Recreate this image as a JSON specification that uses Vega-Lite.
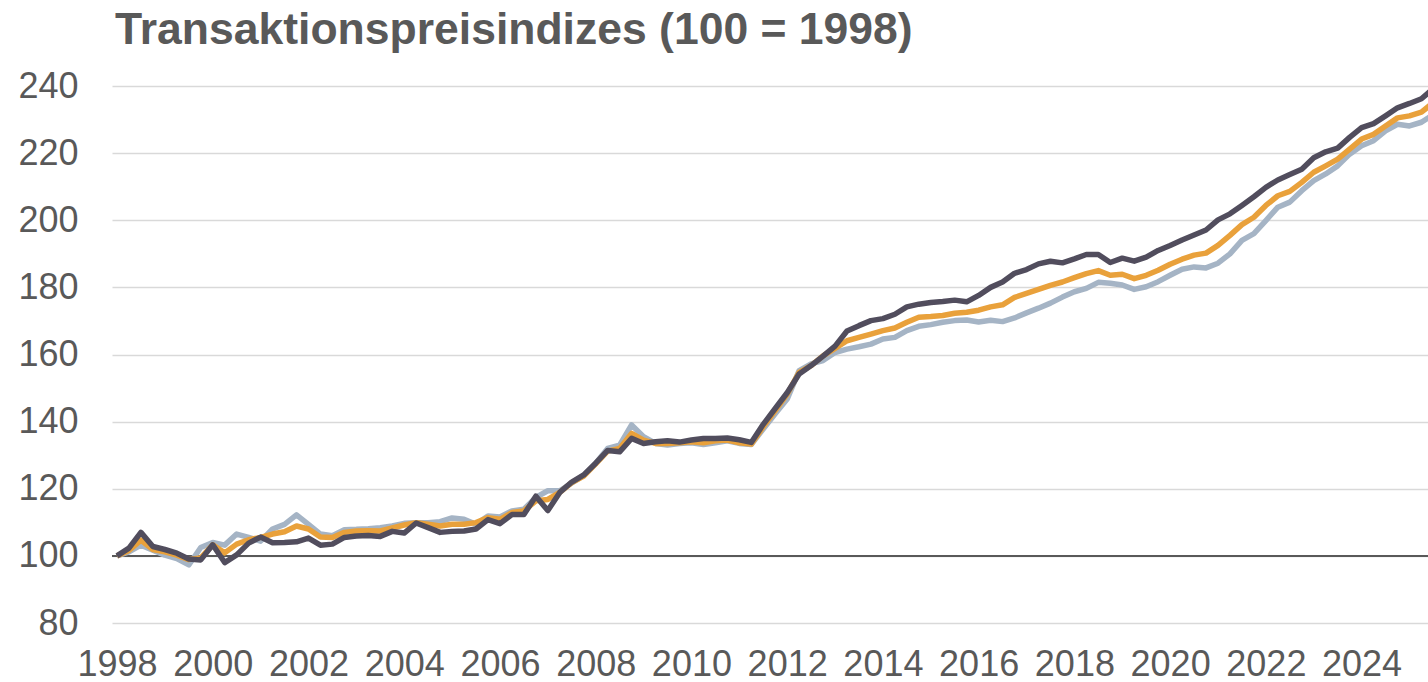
{
  "$schema": "https://vega.github.io/schema/vega-lite/v6.json",
  "autosize": {"type": "none"},
  "width": 1316,
  "height": 537,
  "padding": {"left": 112, "top": 86, "right": 0, "bottom": 59},
  "background": "white",
  "title": {
    "text": "Transaktionspreisindizes (100 = 1998)",
    "anchor": "start",
    "frame": "group",
    "font": "Liberation Sans",
    "fontSize": 44.5,
    "fontWeight": "bold",
    "color": "#595959",
    "offset": 15,
    "dx": 3
  },
  "config": {
    "view": {"stroke": null},
    "font": "Liberation Sans"
  },
  "datasets": {
    "idx": [
      {"t": 1998.0, "a": 100, "b": 100, "c": 100},
      {"t": 1998.25, "a": 101.2, "b": 101.6, "c": 102.3},
      {"t": 1998.5, "a": 103.2, "b": 104.7, "c": 107},
      {"t": 1998.75, "a": 101.7, "b": 101.9, "c": 102.8},
      {"t": 1999.0, "a": 100.2, "b": 101.2, "c": 101.9},
      {"t": 1999.25, "a": 99.2, "b": 100.2, "c": 100.8},
      {"t": 1999.5, "a": 97.3, "b": 98.9, "c": 99.1},
      {"t": 1999.75, "a": 102.5, "b": 99.4, "c": 98.8},
      {"t": 2000.0, "a": 104, "b": 103.3, "c": 103.3},
      {"t": 2000.25, "a": 103.2, "b": 100.9, "c": 98},
      {"t": 2000.5, "a": 106.5, "b": 103.5, "c": 100.3},
      {"t": 2000.75, "a": 105.5, "b": 104.8, "c": 103.8},
      {"t": 2001.0, "a": 104.4, "b": 105.5, "c": 105.6},
      {"t": 2001.25, "a": 108, "b": 106.5, "c": 103.9},
      {"t": 2001.5, "a": 109.4, "b": 107.2, "c": 104},
      {"t": 2001.75, "a": 112.2, "b": 108.9, "c": 104.2},
      {"t": 2002.0, "a": 109.4, "b": 108, "c": 105.3},
      {"t": 2002.25, "a": 106.5, "b": 105.6, "c": 103.2},
      {"t": 2002.5, "a": 106, "b": 105.5, "c": 103.5},
      {"t": 2002.75, "a": 107.8, "b": 107, "c": 105.5},
      {"t": 2003.0, "a": 107.9, "b": 107.4, "c": 105.9},
      {"t": 2003.25, "a": 108.1, "b": 107.5, "c": 106.1},
      {"t": 2003.5, "a": 108.4, "b": 107.4, "c": 105.8},
      {"t": 2003.75, "a": 108.9, "b": 108.3, "c": 107.3},
      {"t": 2004.0, "a": 109.7, "b": 109.2, "c": 106.8},
      {"t": 2004.25, "a": 109.9, "b": 109.9, "c": 109.8},
      {"t": 2004.5, "a": 109.9, "b": 109.4, "c": 108.4},
      {"t": 2004.75, "a": 110.2, "b": 108.9, "c": 107},
      {"t": 2005.0, "a": 111.3, "b": 109.4, "c": 107.3},
      {"t": 2005.25, "a": 110.9, "b": 109.4, "c": 107.4},
      {"t": 2005.5, "a": 109.4, "b": 109.9, "c": 108},
      {"t": 2005.75, "a": 111.9, "b": 111.4, "c": 110.8},
      {"t": 2006.0, "a": 111.6, "b": 110.9, "c": 109.6},
      {"t": 2006.25, "a": 113.4, "b": 112.9, "c": 112.3},
      {"t": 2006.5, "a": 113.9, "b": 113.4, "c": 112.3},
      {"t": 2006.75, "a": 117.4, "b": 116.4, "c": 117.8},
      {"t": 2007.0, "a": 119.4, "b": 116.8, "c": 113.5},
      {"t": 2007.25, "a": 119.4, "b": 118.9, "c": 118.9},
      {"t": 2007.5, "a": 121.7, "b": 121.8, "c": 122},
      {"t": 2007.75, "a": 124, "b": 123.8, "c": 124.1},
      {"t": 2008.0, "a": 127.6, "b": 127.4, "c": 127.6},
      {"t": 2008.25, "a": 132, "b": 131.2, "c": 131.4},
      {"t": 2008.5, "a": 133, "b": 132, "c": 131},
      {"t": 2008.75, "a": 139, "b": 136.5, "c": 135},
      {"t": 2009.0, "a": 135.5, "b": 134.5, "c": 133.5},
      {"t": 2009.25, "a": 133.5, "b": 133.5, "c": 134},
      {"t": 2009.5, "a": 133, "b": 133.5, "c": 134.3},
      {"t": 2009.75, "a": 133.5, "b": 133.7, "c": 133.9},
      {"t": 2010.0, "a": 133.7, "b": 134, "c": 134.5},
      {"t": 2010.25, "a": 133.2, "b": 133.7, "c": 135},
      {"t": 2010.5, "a": 133.7, "b": 134.3, "c": 135},
      {"t": 2010.75, "a": 134.3, "b": 134.5, "c": 135.1},
      {"t": 2011.0, "a": 133.5, "b": 133.7, "c": 134.6},
      {"t": 2011.25, "a": 133.2, "b": 133.3, "c": 133.8},
      {"t": 2011.5, "a": 137.8, "b": 138.5, "c": 139.2},
      {"t": 2011.75, "a": 142.3, "b": 143.3, "c": 143.9},
      {"t": 2012.0, "a": 146.7, "b": 148.2, "c": 148.6},
      {"t": 2012.25, "a": 155.2, "b": 154.7, "c": 154.2},
      {"t": 2012.5, "a": 157.2, "b": 156.7, "c": 156.7},
      {"t": 2012.75, "a": 158.2, "b": 159.6, "c": 159.5},
      {"t": 2013.0, "a": 160.6, "b": 161.8, "c": 162.5},
      {"t": 2013.25, "a": 161.6, "b": 164.1, "c": 167},
      {"t": 2013.5, "a": 162.3, "b": 165.1, "c": 168.6},
      {"t": 2013.75, "a": 163.1, "b": 166.1, "c": 170.1},
      {"t": 2014.0, "a": 164.6, "b": 167.1, "c": 170.7},
      {"t": 2014.25, "a": 165.1, "b": 167.9, "c": 172},
      {"t": 2014.5, "a": 167.1, "b": 169.6, "c": 174.2},
      {"t": 2014.75, "a": 168.4, "b": 171.1, "c": 175},
      {"t": 2015.0, "a": 168.9, "b": 171.3, "c": 175.5},
      {"t": 2015.25, "a": 169.6, "b": 171.6, "c": 175.8},
      {"t": 2015.5, "a": 170.1, "b": 172.3, "c": 176.2},
      {"t": 2015.75, "a": 170.3, "b": 172.6, "c": 175.7},
      {"t": 2016.0, "a": 169.7, "b": 173.2, "c": 177.6},
      {"t": 2016.25, "a": 170.2, "b": 174.2, "c": 180},
      {"t": 2016.5, "a": 169.8, "b": 174.8, "c": 181.6},
      {"t": 2016.75, "a": 170.9, "b": 177, "c": 184.2},
      {"t": 2017.0, "a": 172.4, "b": 178.2, "c": 185.3},
      {"t": 2017.25, "a": 173.8, "b": 179.4, "c": 187},
      {"t": 2017.5, "a": 175.3, "b": 180.6, "c": 187.8},
      {"t": 2017.75, "a": 177.1, "b": 181.6, "c": 187.3},
      {"t": 2018.0, "a": 178.7, "b": 182.9, "c": 188.5},
      {"t": 2018.25, "a": 179.7, "b": 184.1, "c": 189.8},
      {"t": 2018.5, "a": 181.5, "b": 185, "c": 189.8},
      {"t": 2018.75, "a": 181.2, "b": 183.6, "c": 187.4},
      {"t": 2019.0, "a": 180.7, "b": 183.9, "c": 188.7},
      {"t": 2019.25, "a": 179.4, "b": 182.6, "c": 187.8},
      {"t": 2019.5, "a": 180.2, "b": 183.6, "c": 189},
      {"t": 2019.75, "a": 181.7, "b": 185.1, "c": 191},
      {"t": 2020.0, "a": 183.6, "b": 186.9, "c": 192.5},
      {"t": 2020.25, "a": 185.4, "b": 188.4, "c": 194.1},
      {"t": 2020.5, "a": 186.1, "b": 189.6, "c": 195.6},
      {"t": 2020.75, "a": 185.8, "b": 190.2, "c": 197.1},
      {"t": 2021.0, "a": 187.2, "b": 192.5, "c": 200.1},
      {"t": 2021.25, "a": 190, "b": 195.5, "c": 201.9},
      {"t": 2021.5, "a": 194, "b": 198.7, "c": 204.4},
      {"t": 2021.75, "a": 196, "b": 200.9, "c": 207},
      {"t": 2022.0, "a": 199.9, "b": 204.4, "c": 209.8},
      {"t": 2022.25, "a": 203.9, "b": 207.3, "c": 212},
      {"t": 2022.5, "a": 205.4, "b": 208.6, "c": 213.6},
      {"t": 2022.75, "a": 208.8, "b": 211.3, "c": 215.2},
      {"t": 2023.0, "a": 211.8, "b": 214.3, "c": 218.6},
      {"t": 2023.25, "a": 213.8, "b": 216.2, "c": 220.4},
      {"t": 2023.5, "a": 216.2, "b": 218.2, "c": 221.5},
      {"t": 2023.75, "a": 219.7, "b": 221.2, "c": 224.7},
      {"t": 2024.0, "a": 222.2, "b": 224.2, "c": 227.6},
      {"t": 2024.25, "a": 223.7, "b": 225.6, "c": 228.8},
      {"t": 2024.5, "a": 226.6, "b": 228.1, "c": 231.1},
      {"t": 2024.75, "a": 228.6, "b": 230.5, "c": 233.5},
      {"t": 2025.0, "a": 228.1, "b": 231.1, "c": 234.8},
      {"t": 2025.25, "a": 229.2, "b": 232.2, "c": 236.2},
      {"t": 2025.5, "a": 231.5, "b": 235.1, "c": 239.3}
    ],
    "base": [{"basis": 100}]
  },
  "layer": [
    {
      "data": {"name": "base"},
      "mark": {"type": "rule", "color": "#595959", "strokeWidth": 2},
      "encoding": {
        "y": {
          "field": "basis",
          "type": "quantitative",
          "scale": {"domain": [80, 240], "nice": false, "zero": false},
          "axis": {
            "title": null,
            "values": [80, 100, 120, 140, 160, 180, 200, 220, 240],
            "grid": true,
            "gridColor": "#d9d9d9",
            "gridWidth": 1.5,
            "domain": false,
            "ticks": false,
            "labelFontSize": 36,
            "labelColor": "#595959",
            "labelFont": "Liberation Sans",
            "labelPadding": 34
          }
        }
      }
    },
    {
      "data": {"name": "idx"},
      "mark": {"type": "line", "color": "#a5b4c5", "strokeWidth": 5.5, "strokeJoin": "round", "clip": true},
      "encoding": {
        "x": {
          "field": "t",
          "type": "quantitative",
          "scale": {"domain": [1997.896, 2025.387], "nice": false, "zero": false},
          "axis": {
            "title": null,
            "values": [1998, 2000, 2002, 2004, 2006, 2008, 2010, 2012, 2014, 2016, 2018, 2020, 2022, 2024],
            "format": "d",
            "grid": false,
            "domain": false,
            "ticks": false,
            "labelFontSize": 36,
            "labelColor": "#595959",
            "labelFont": "Liberation Sans",
            "labelPadding": 24,
            "labelOverlap": false,
            "labelFlush": false
          }
        },
        "y": {"field": "a", "type": "quantitative"}
      }
    },
    {
      "data": {"name": "idx"},
      "mark": {"type": "line", "color": "#e9a13b", "strokeWidth": 5.5, "strokeJoin": "round", "clip": true},
      "encoding": {
        "x": {"field": "t", "type": "quantitative"},
        "y": {"field": "b", "type": "quantitative"}
      }
    },
    {
      "data": {"name": "idx"},
      "mark": {"type": "line", "color": "#514d5d", "strokeWidth": 5.5, "strokeJoin": "round", "clip": true},
      "encoding": {
        "x": {"field": "t", "type": "quantitative"},
        "y": {"field": "c", "type": "quantitative"}
      }
    }
  ]
}
